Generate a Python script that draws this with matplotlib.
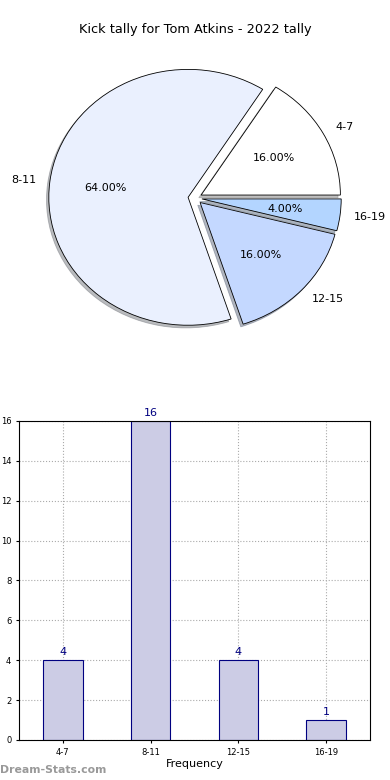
import numpy as np
import matplotlib.pyplot as plt

# ---- Data ----
categories = ['4-7', '8-11', '12-15', '16-19']
counts = [4, 16, 4, 1]
pie_colors = ['#ffffff', '#eaf0fe', '#c4d8ff', '#b3d5ff']

fig = plt.figure(figsize=(3.9, 7.8), dpi=100)

# ---- Pie ----
ax1 = fig.add_axes([0.0, 0.541, 1.0, 0.41])
ax1.pie(counts, labels=categories, colors=pie_colors, autopct='%.2f%%',
        startangle=0, counterclock=True, explode=[0.05] * 4,
        shadow=dict(ox=-0.012, oy=-0.015, shade=0.5),
        wedgeprops=dict(edgecolor='black', linewidth=0.6),
        textprops=dict(fontsize=8))
ax1.set_aspect('auto')
ax1.set_xlim(-1.4, 1.4)
ax1.set_ylim(-1.25, 1.25)
ax1.axis('off')
fig.text(0.5, 1 - 30 / 780, 'Kick tally for Tom Atkins - 2022 tally',
         ha='center', va='center', fontsize=9.3)

# ---- Bar chart ----
ax2 = fig.add_axes([0.0487, 0.0513, 0.9, 0.409])
x = np.arange(len(categories))
ax2.bar(x, counts, width=0.45, color='#cccce5', edgecolor='#000080',
        linewidth=0.8, zorder=2)
for xi, c in zip(x, counts):
    ax2.text(xi, c + 0.15, str(c), ha='center', va='bottom',
             color='#000080', fontsize=8)
ax2.set_xlim(-0.5, 3.5)
ax2.set_ylim(0, 16)
ax2.set_xticks(x)
ax2.set_xticklabels(categories)
ax2.set_yticks(np.arange(0, 17, 2))
ax2.tick_params(labelsize=6, length=2)
ax2.grid(True, linestyle=':', color='#aaaaaa', linewidth=0.8, zorder=0)
ax2.set_axisbelow(True)
ax2.set_xlabel('Frequency', fontsize=8, labelpad=2)
ax2.set_ylabel('Distribution', fontsize=8)
ax2.yaxis.set_label_coords(-0.062, 0.5)

fig.text(0.0, 1 - 770 / 780, 'Dream-Stats.com', ha='left', va='center',
         color='#999999', fontsize=7.8, fontweight='bold')

fig.savefig('out.png', dpi=100)
